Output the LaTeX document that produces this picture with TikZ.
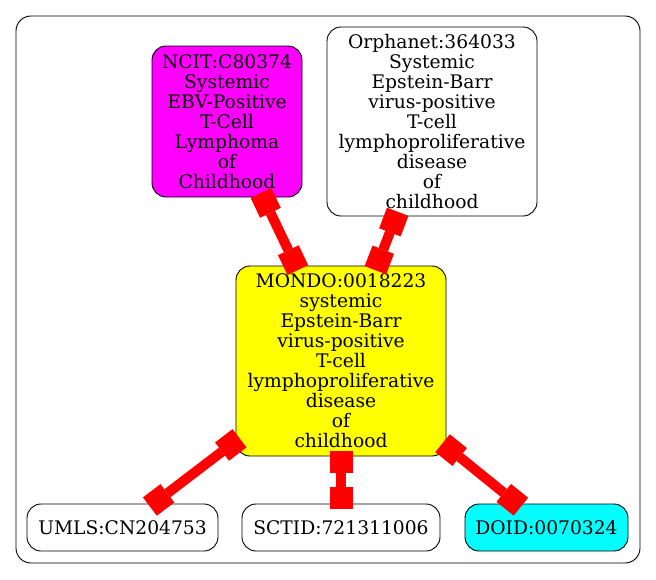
\documentclass[tikz,border=0pt]{standalone}
\usepackage{fontspec}
\setmainfont{DejaVu Serif}
\usetikzlibrary{arrows.meta}
\definecolor{rosa}{RGB}{255,0,255}
\definecolor{amarelo}{RGB}{255,255,0}
\definecolor{ciano}{RGB}{0,255,255}
\definecolor{vermelho}{RGB}{255,0,0}

\begin{document}
\begin{tikzpicture}[x=1pt,y=-1pt,
    termo/.style={draw=black, line width=0.9pt, rounded corners=14pt,
        align=center, inner sep=0pt, minimum height=47pt,
        font=\fontsize{18.7}{20}\selectfont},
    ligacao/.style={vermelho, line width=10pt,
        {Square[length=22pt,width=23pt,line width=0pt]}-{Square[length=22pt,width=23pt,line width=0pt]},
        shorten <=-5pt, shorten >=-5pt}]
    \useasboundingbox (0,0) rectangle (656,579);

    % moldura
    \draw[line width=0.9pt, rounded corners=15pt] (16,16) rectangle (640,563);

    % termos de cima
    \node[termo, fill=rosa, minimum width=150pt, minimum height=151pt] (ncit) at (227,121.5)
        {NCIT:C80374\\Systemic\\EBV-Positive\\T-Cell\\Lymphoma\\of\\Childhood};
    \node[termo, fill=white, minimum width=210pt, minimum height=189pt] (orpha) at (432,121.5)
        {Orphanet:364033\\Systemic\\Epstein-Barr\\virus-positive\\T-cell\\lymphoproliferative\\disease\\of\\childhood};

    % termo central
    \node[termo, fill=amarelo, minimum width=210pt, minimum height=190pt] (mondo) at (341,361)
        {MONDO:0018223\\systemic\\Epstein-Barr\\virus-positive\\T-cell\\lymphoproliferative\\disease\\of\\childhood};

    % termos de baixo
    \node[termo, fill=white, minimum width=191pt] (umls) at (122.5,527.5) {UMLS:CN204753};
    \node[termo, fill=white, minimum width=198pt] (sctid) at (341,527.5) {SCTID:721311006};
    \node[termo, fill=ciano, minimum width=163pt] (doid) at (546.5,527.5) {DOID:0070324};

    % ligações
    \draw[ligacao] (ncit) -- (mondo);
    \draw[ligacao] (orpha) -- (mondo);
    \draw[ligacao] (mondo) -- (umls);
    \draw[ligacao] (mondo) -- (sctid);
    \draw[ligacao] (mondo) -- (doid);
\end{tikzpicture}
\end{document}
